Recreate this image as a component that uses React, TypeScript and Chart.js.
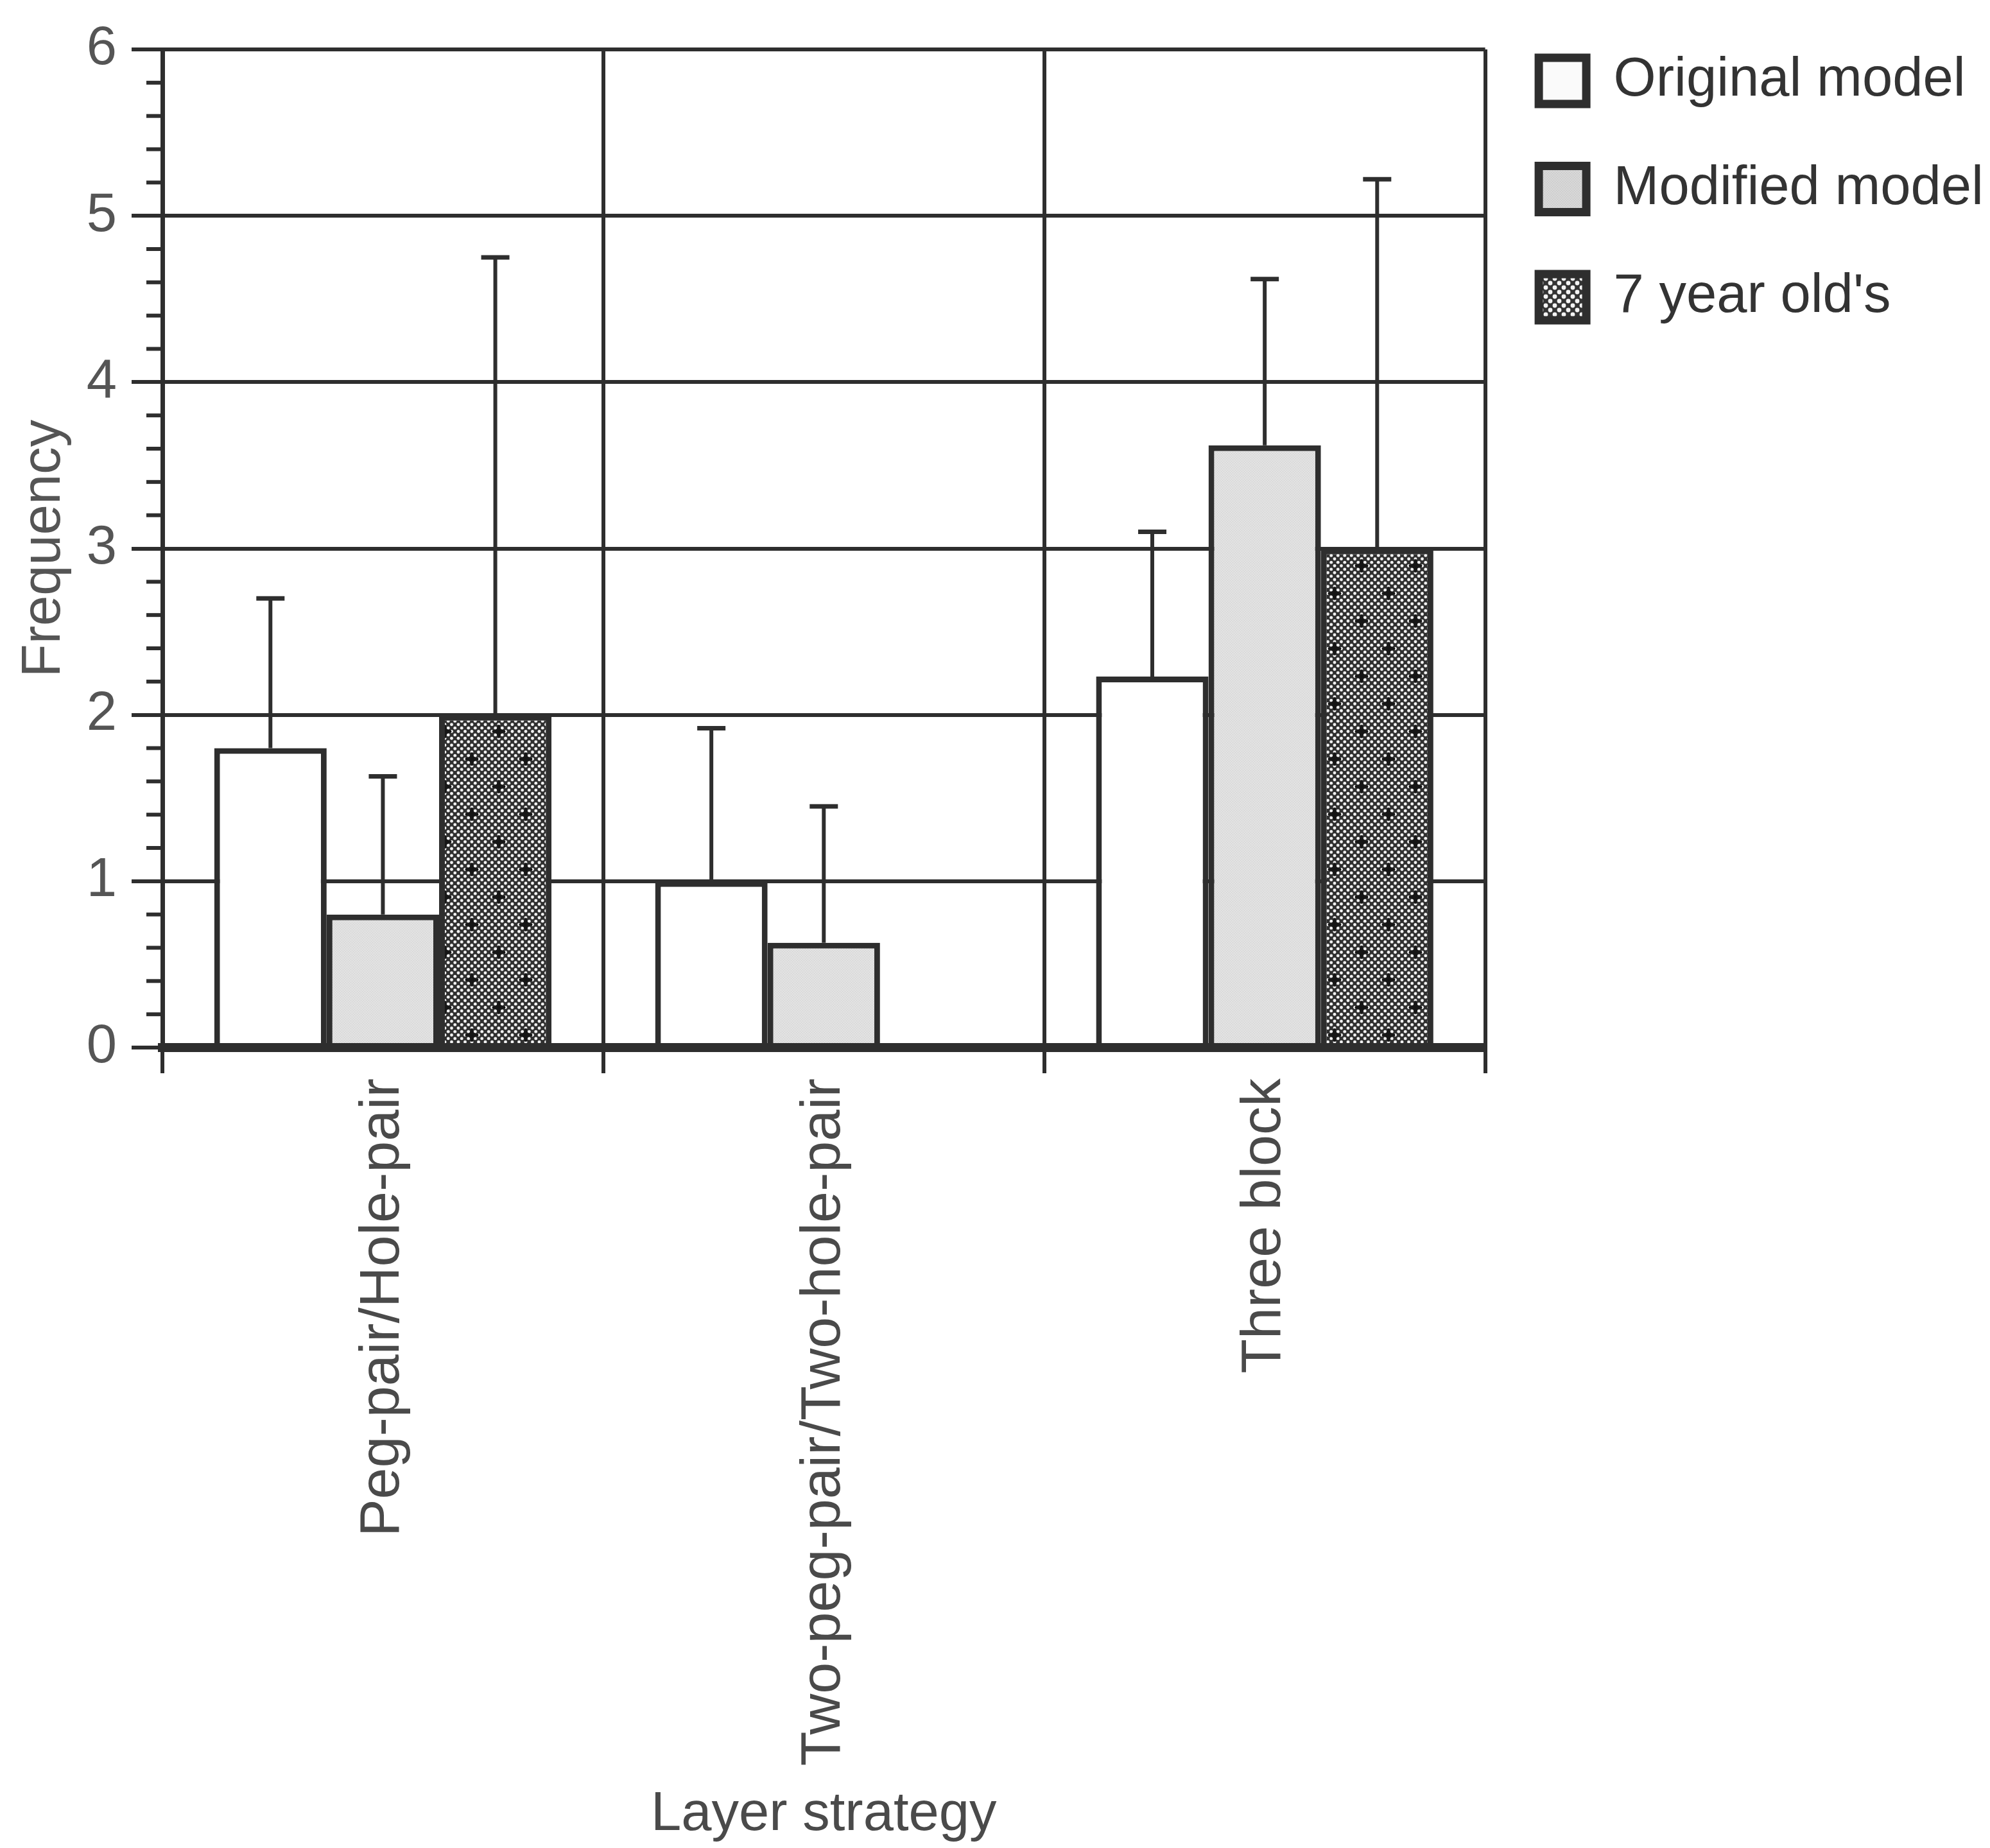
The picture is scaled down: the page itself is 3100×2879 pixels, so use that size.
import React, { useEffect, useRef } from 'react';
import { Chart, registerables } from 'chart.js';

Chart.register(...registerables);

// Categories and series
const categories = ['Peg-pair/Hole-pair', 'Two-peg-pair/Two-hole-pair', 'Three block'];
const seriesNames = ['Original model', 'Modified model', "7 year old's"];

// Mean frequency per strategy
const originalModel = [1.8, 1.0, 2.23];
const modifiedModel = [0.8, 0.63, 3.62];
const sevenYearOlds = [2.0, 0, 3.0];

// Upper end of each error bar (null = no bar drawn)
const originalUpper: (number | null)[] = [2.7, 1.92, 3.1];
const modifiedUpper: (number | null)[] = [1.63, 1.45, 4.62];
const sevenYearUpper: (number | null)[] = [4.75, null, 5.22];

// Value axis
const yMin = 0;
const yMax = 6;
const yStep = 1;
const yMinorStep = 0.2;

const xTitle = 'Layer strategy';
const yTitle = 'Frequency';

const W = 3100;
const H = 2879;
const FONT = '"Liberation Sans", Arial, Helvetica, sans-serif';
const INK = '#2e2e2e';

function makeTile(w: number, h: number, draw: (g: CanvasRenderingContext2D) => void) {
  const c = document.createElement('canvas');
  c.width = w;
  c.height = h;
  const g = c.getContext('2d')!;
  draw(g);
  return c;
}

// Small four-point star mark
function star(g: CanvasRenderingContext2D, cx: number, cy: number) {
  g.beginPath();
  g.moveTo(cx, cy - 11);
  g.lineTo(cx + 3.5, cy - 3.5);
  g.lineTo(cx + 11, cy);
  g.lineTo(cx + 3.5, cy + 3.5);
  g.lineTo(cx, cy + 11);
  g.lineTo(cx - 3.5, cy + 3.5);
  g.lineTo(cx - 11, cy);
  g.lineTo(cx - 3.5, cy - 3.5);
  g.closePath();
  g.fill();
  g.fillRect(cx - 2, cy - 10, 4, 20);
  g.fillRect(cx - 10, cy - 2, 20, 4);
}

// Dark stipple with staggered star marks for the 7 year old's bars
function stippleWithMarks(ctx: CanvasRenderingContext2D) {
  const tile = makeTile(84, 86, (g) => {
    g.fillStyle = '#303030';
    g.fillRect(0, 0, 84, 86);
    g.fillStyle = '#f2f2f2';
    const sx = 10.5;
    const sy = 10.75;
    for (let i = 0; i <= 8; i++) {
      for (let j = 0; j <= 8; j++) {
        g.beginPath();
        g.arc(i * sx, j * sy, 2.45, 0, Math.PI * 2);
        g.fill();
        g.beginPath();
        g.arc((i + 0.5) * sx, (j + 0.5) * sy, 2.45, 0, Math.PI * 2);
        g.fill();
      }
    }
    g.fillStyle = '#161616';
    star(g, 21, 21.5);
    star(g, 63, 64.5);
  });
  return ctx.createPattern(tile, 'repeat')!;
}

// Plain coarse stipple for the legend swatch
function stipple(ctx: CanvasRenderingContext2D) {
  const tile = makeTile(14, 14, (g) => {
    g.fillStyle = '#343434';
    g.fillRect(0, 0, 14, 14);
    g.fillStyle = '#f4f4f4';
    const pts = [[0, 0], [14, 0], [0, 14], [14, 14], [7, 7]];
    for (const [x, y] of pts) {
      g.beginPath();
      g.arc(x, y, 3.4, 0, Math.PI * 2);
      g.fill();
    }
  });
  return ctx.createPattern(tile, 'repeat')!;
}

// Light grey dither for the modified model
function lightDither(ctx: CanvasRenderingContext2D, base: string, speck: string) {
  const tile = makeTile(4, 4, (g) => {
    g.fillStyle = base;
    g.fillRect(0, 0, 4, 4);
    g.fillStyle = speck;
    g.fillRect(0, 0, 1, 1);
    g.fillRect(2, 2, 1, 1);
  });
  return ctx.createPattern(tile, 'repeat')!;
}

const upperBounds = [originalUpper, modifiedUpper, sevenYearUpper];

const errorBarPlugin = {
  id: 'errorBars',
  afterDatasetsDraw(chart: any) {
    const { ctx } = chart;
    const yScale = chart.scales.y;
    ctx.save();
    ctx.strokeStyle = INK;
    upperBounds.forEach((ups, di) => {
      const meta = chart.getDatasetMeta(di);
      meta.data.forEach((bar: any, i: number) => {
        const up = ups[i];
        if (up == null) return;
        const { x, y } = bar.getProps(['x', 'y'], true);
        const yUp = yScale.getPixelForValue(up);
        ctx.lineWidth = 6;
        ctx.beginPath();
        ctx.moveTo(x, y);
        ctx.lineTo(x, yUp);
        ctx.stroke();
        ctx.lineWidth = 7;
        ctx.beginPath();
        ctx.moveTo(x - 22, yUp);
        ctx.lineTo(x + 22, yUp);
        ctx.stroke();
      });
    });
    ctx.restore();
  },
};

const minorTickPlugin = {
  id: 'minorTicks',
  afterDraw(chart: any) {
    const { ctx } = chart;
    const s = chart.scales.y;
    const x0 = s.right;
    const n = Math.round((yMax - yMin) / yMinorStep);
    const per = Math.round(yStep / yMinorStep);
    ctx.save();
    ctx.strokeStyle = INK;
    ctx.lineWidth = 6;
    for (let k = 0; k <= n; k++) {
      if (k % per === 0) continue;
      const py = s.getPixelForValue(yMin + k * yMinorStep);
      ctx.beginPath();
      ctx.moveTo(x0 - 25, py);
      ctx.lineTo(x0, py);
      ctx.stroke();
    }
    ctx.restore();
  },
};

export default function App() {
  const canvasRef = useRef<HTMLCanvasElement | null>(null);

  useEffect(() => {
    document.body.style.margin = '0';
    const canvas = canvasRef.current;
    if (!canvas) return;
    const ctx = canvas.getContext('2d')!;

    const fills = ['#ffffff', lightDither(ctx, '#e1e1e1', '#d0d0d0'), stippleWithMarks(ctx)];
    const legendFills = ['#fafafa', lightDither(ctx, '#d6d6d6', '#c4c4c4'), stipple(ctx)];
    const values = [originalModel, modifiedModel, sevenYearOlds];

    const font = { family: FONT, size: 85 };
    const xFont = { family: FONT, size: 88 };

    const chart = new Chart(canvas, {
      type: 'bar',
      data: {
        labels: categories,
        datasets: seriesNames.map((name, i) => ({
          label: name,
          data: values[i],
          backgroundColor: fills[i],
          borderColor: INK,
          borderWidth: 9,
          borderSkipped: 'start',
          categoryPercentage: 0.765,
          barPercentage: 1.0,
        })),
      },
      options: {
        animation: false,
        responsive: false,
        devicePixelRatio: 1,
        layout: { padding: 0 },
        plugins: {
          tooltip: { enabled: false },
          title: {
            display: true,
            text: '',
            fullSize: false,
            font: { size: 10, lineHeight: 1 },
            padding: { top: 0, bottom: 67 },
          },
          legend: {
            position: 'right',
            align: 'start',
            maxWidth: 820,
            labels: {
              boxWidth: 74,
              boxHeight: 72,
              padding: 83.5,
              color: '#333333',
              font,
              generateLabels: (c: any) => {
                const items = (Chart.defaults.plugins.legend.labels as any).generateLabels(c);
                return items.map((it: any, i: number) => ({
                  ...it,
                  fillStyle: legendFills[i],
                  strokeStyle: INK,
                  lineWidth: 13,
                }));
              },
            },
          },
        },
        scales: {
          x: {
            grid: {
              offset: true,
              color: INK,
              lineWidth: 6,
              tickLength: 40,
              drawTicks: true,
            },
            border: { color: INK, width: 14, z: 1 },
            ticks: {
              minRotation: 90,
              maxRotation: 90,
              autoSkip: false,
              padding: 8,
              color: '#4a4a4a',
              font: xFont,
            },
            title: {
              display: true,
              text: xTitle,
              color: '#4a4a4a',
              font,
              padding: { top: 0, bottom: 0 },
            },
            afterFit: (s: any) => {
              s.height = 1247;
            },
          },
          y: {
            min: yMin,
            max: yMax,
            ticks: {
              stepSize: yStep,
              padding: 23,
              color: '#555555',
              font,
            },
            grid: {
              color: INK,
              lineWidth: 6,
              tickLength: 48,
            },
            border: { color: INK, width: 7 },
            title: {
              display: true,
              text: yTitle,
              color: '#555555',
              font,
              padding: { top: 19, bottom: 0 },
            },
            afterFit: (s: any) => {
              s.width = 253;
            },
          },
        },
      },
      plugins: [errorBarPlugin, minorTickPlugin],
    } as any);

    return () => {
      chart.destroy();
    };
  }, []);

  return (
    <div style={{ width: W, height: H, background: '#ffffff' }}>
      <canvas ref={canvasRef} width={W} height={H} style={{ display: 'block' }} />
    </div>
  );
}
